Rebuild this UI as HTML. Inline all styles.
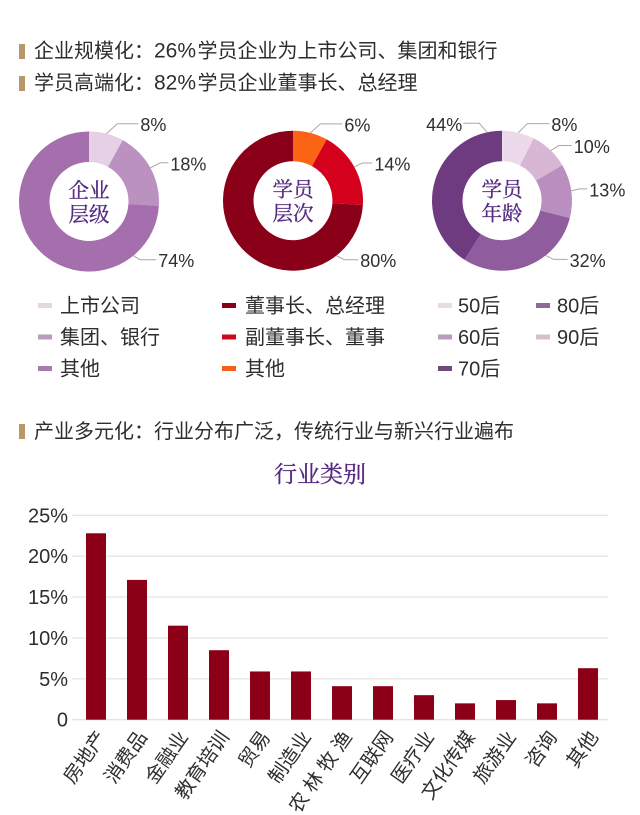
<!DOCTYPE html>
<html lang="zh">
<head>
<meta charset="utf-8">
<title>学员企业分布</title>
<style>
html,body{margin:0;padding:0;background:#fff;}
body{width:640px;height:815px;overflow:hidden;}
svg{display:block;}
text{font-family:"Liberation Sans","Noto Sans CJK SC",sans-serif;fill:#2e2e2e;}
.serif{font-family:"Liberation Serif","Noto Serif CJK SC",serif;fill:#552a80;stroke:#552a80;stroke-width:0.35;}
</style>
</head>
<body>
<svg id="page" width="640" height="815" viewBox="0 0 640 815" xmlns="http://www.w3.org/2000/svg">
  <rect x="19" y="44" width="6" height="15" fill="#b8976a"/>
  <text x="34" y="57.5" font-size="20">企业规模化：<tspan font-size="21">26%</tspan><tspan dx="1.5">学员企业为上市公司、集团和银行</tspan></text>
  <rect x="19" y="76" width="6" height="15" fill="#b8976a"/>
  <text x="34" y="89.5" font-size="20">学员高端化：<tspan font-size="21">82%</tspan><tspan dx="1.5">学员企业董事长、总经理</tspan></text>
  <rect x="19" y="424" width="6" height="15" fill="#b8976a"/>
  <text x="34" y="438" font-size="20">产业多元化：行业分布广泛，传统行业与新兴行业遍布</text>
  <text class="serif" x="320" y="482" font-size="23" text-anchor="middle">行业类别</text>
</svg>
<script>
// Donut: enterprise level
const levelLabels = ['8%', '18%', '74%'];
const levelShares = [8, 18, 74];
const levelColors = ['#e6d0e5', '#bb91c0', '#a56eac'];
// Donut: student level
const rankLabels = ['6%', '14%', '80%'];
const rankShares = [8, 18, 74];
const rankColors = ['#fa6414', '#d5001b', '#8a0018'];
// Donut: age
const ageLabels = ['8%', '10%', '13%', '32%', '44%'];
const ageShares = [7.5, 9, 12.5, 30, 41];
const ageColors = ['#ecd9ea', '#d8b7d5', '#ba8ebf', '#8f5c9e', '#6f3b80'];
// Bar chart
const industries = ['房地产', '消费品', '金融业', '教育培训', '贸易', '制造业', '农 林 牧 渔', '互联网', '医疗业', '文化传媒', '旅游业', '咨询', '其他'];
const industryShares = [22.8, 17.1, 11.5, 8.5, 5.9, 5.9, 4.1, 4.1, 3.0, 2.0, 2.4, 2.0, 6.3];
const yTicks = [0, 5, 10, 15, 20, 25];
const yTickLabels = ['0', '5%', '10%', '15%', '20%', '25%'];

const svg = document.getElementById('page');
const NS = 'http://www.w3.org/2000/svg';
function mk(tag, attrs, txt) {
  const el = document.createElementNS(NS, tag);
  for (const k in attrs) el.setAttribute(k, attrs[k]);
  if (txt !== undefined) el.textContent = txt;
  svg.appendChild(el);
  return el;
}
function polar(cx, cy, r, deg) {
  const a = deg * Math.PI / 180;
  return [cx + r * Math.sin(a), cy - r * Math.cos(a)];
}
function slicePath(cx, cy, r0, r1, a0, a1) {
  const p0 = polar(cx, cy, r1, a0), p1 = polar(cx, cy, r1, a1);
  const p2 = polar(cx, cy, r0, a1), p3 = polar(cx, cy, r0, a0);
  const big = a1 - a0 > 180 ? 1 : 0;
  return 'M' + p0 + 'A' + r1 + ' ' + r1 + ' 0 ' + big + ' 1 ' + p1 +
    'L' + p2 + 'A' + r0 + ' ' + r0 + ' 0 ' + big + ' 0 ' + p3 + 'Z';
}
// Leader layout per label: angle nudge from the slice midpoint, knee offset, horizontal run
function drawDonut(cx, cy, shares, colors, labels, leaders, centerLines) {
  const total = shares.reduce((a, b) => a + b, 0);
  let acc = 0;
  shares.forEach((v, i) => {
    const a0 = acc / total * 360;
    acc += v;
    const a1 = acc / total * 360;
    const slice = mk('path', { d: slicePath(cx, cy, 39.5, 70, a0, a1), fill: colors[i] });
    
    
    const lead = leaders[i];
    const s = polar(cx, cy, 70, (a0 + a1) / 2 + lead[0]);
    const kx = s[0] + lead[1], ky = s[1] + lead[2], ex = kx + lead[3];
    const line = mk('polyline', { points: [s, [kx, ky], [ex, ky]].join(' '), fill: 'none', stroke: '#a9a9a9', 'stroke-width': 1 });
    
    
    const right = lead[3] >= 0;
    const label = mk('text', { x: ex + (right ? 2 : -1), y: ky + 7.5, 'font-size': 18, 'text-anchor': right ? 'start' : 'end' }, labels[i]);
    
    
  });
  centerLines.forEach((t, i) => {
    const c = mk('text', { class: 'serif', x: cx, y: cy - 4 + i * 24, 'font-size': 20.5, 'text-anchor': 'middle' }, t);
    
    
  });
}
drawDonut(89, 201.5, levelShares, levelColors, levelLabels,
  [[0, 11, -10, 21], [0, 10, -5, 8], [-86, 7, 4, 16]], ['企业', '层级']);
drawDonut(293, 200.7, rankShares, rankColors, rankLabels,
  [[0, 10, -9, 22], [0, 8, -4, 10], [-85, 8, 4, 14]], ['学员', '层次']);
drawDonut(502, 200.7, ageShares, ageColors, ageLabels,
  [[0, 9, -9, 22], [1, 8, -5, 13], [0, 8, -2, 8], [-17, 8, 4, 14], [61.6, -8, -9, -16]], ['学员', '年龄']);

// Legends
const legendEntries = [
  ['上市公司', 38, 60, 0, '#e4d8df'], ['集团、银行', 38, 60, 1, '#b99bbd'], ['其他', 38, 60, 2, '#a67bae'],
  ['董事长、总经理', 222, 245, 0, '#8a0018'], ['副董事长、董事', 222, 245, 1, '#c9081f'], ['其他', 222, 245, 2, '#f4601c'],
  ['50后', 438, 458, 0, '#e6dce2'], ['60后', 438, 458, 1, '#b99bbd'], ['70后', 438, 458, 2, '#6f4a7c'],
  ['80后', 536, 557, 0, '#8f6a96'], ['90后', 536, 557, 1, '#d3c1cf']
];
legendEntries.forEach(e => {
  const y = 305.5 + e[3] * 31.5;
  const sw = mk('rect', { x: e[1], y: y - 2.5, width: 14, height: 5, fill: e[4] });
  
  
  const t = mk('text', { x: e[2], y: y + 7, 'font-size': 20 }, e[0]);
  
  
});

// Bar chart axes
const plotLeft = 72, plotRight = 608, plotTop = 515.3, plotBottom = 719.7;
const bandStart = 75.5, bandStep = 41, barWidth = 20;
const yMax = yTicks[yTicks.length - 1];
function yScale(v) { return plotBottom - v / yMax * (plotBottom - plotTop); }
function xScale(i) { return bandStart + bandStep * (i + 0.5); }

yTicks.forEach((v, i) => {
  const y = yScale(v);
  const g = mk('line', { x1: plotLeft, x2: plotRight, y1: y, y2: y, stroke: '#dcdcdc', 'stroke-width': 1 });
  
  
  const t = mk('text', { x: 68, y: y + 7, 'font-size': 20, 'text-anchor': 'end' }, yTickLabels[i]);
  
  
});
industryShares.forEach((v, i) => {
  const x = xScale(i), y = yScale(v);
  const b = mk('rect', { x: x - barWidth / 2, y: y, width: barWidth, height: plotBottom - y, fill: '#8b0016' });
  
  
  const lx = x + 11, ly = 737;
  const t = mk('text', { x: lx, y: ly, 'font-size': 19.5, 'text-anchor': 'end', transform: 'rotate(-55 ' + lx + ' ' + ly + ')' }, industries[i]);
  
  
});
</script>
</body>
</html>
